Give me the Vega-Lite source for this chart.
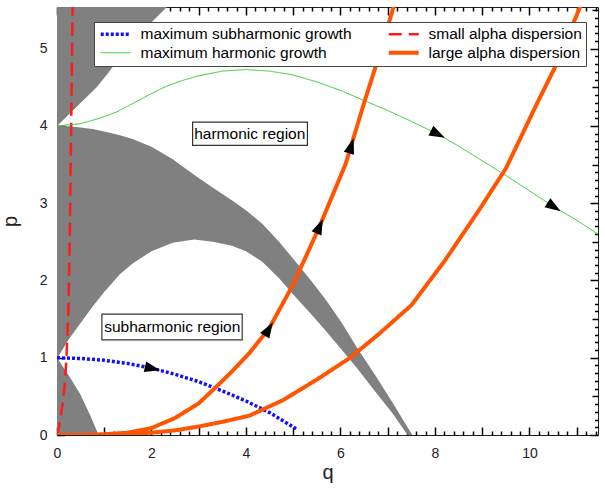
{
  "$schema": "https://vega.github.io/schema/vega-lite/v6.json",
  "width": 541,
  "height": 428,
  "autosize": {"type": "none"},
  "padding": {"left": 57, "top": 7, "right": 7, "bottom": 56},
  "background": "white",
  "config": {
    "view": {"stroke": "#222", "strokeWidth": 1},
    "legend": {
      "orient": "none", "legendX": 37, "legendY": 15, "columns": 2, "direction": "horizontal",
      "fillColor": "white", "strokeColor": "#444", "padding": 4,
      "labelFont": "Liberation Sans", "labelFontSize": 15.5, "labelColor": "black", "labelLimit": 0,
      "symbolType": "M-1,0L5,0", "symbolSize": 100, "labelOffset": 27, "columnPadding": 28, "rowPadding": 1
    }
  },
  "datasets": {
    "grayTop": [
      {"q": 0, "p": 4.0, "p2": 5.6}, {"q": 0.2, "p": 4.12, "p2": 5.6}, {"q": 0.4, "p": 4.24, "p2": 5.6},
      {"q": 0.84, "p": 4.5, "p2": 5.6}, {"q": 1.1, "p": 4.7, "p2": 5.6}, {"q": 1.43, "p": 4.97, "p2": 5.6},
      {"q": 1.9, "p": 5.28, "p2": 5.6}, {"q": 2.36, "p": 5.56, "p2": 5.6}
    ],
    "grayBand": [
      {"q": 0, "p": 1.0, "p2": 4.0}, {"q": 0.05, "p": 1.04, "p2": 4.0}, {"q": 0.25, "p": 1.24, "p2": 3.995},
      {"q": 0.5, "p": 1.45, "p2": 3.98}, {"q": 0.75, "p": 1.66, "p2": 3.96}, {"q": 1.0, "p": 1.85, "p2": 3.93},
      {"q": 1.33, "p": 2.08, "p2": 3.88}, {"q": 1.6, "p": 2.22, "p2": 3.83}, {"q": 2.0, "p": 2.38, "p2": 3.73},
      {"q": 2.45, "p": 2.49, "p2": 3.57}, {"q": 2.9, "p": 2.53, "p2": 3.37}, {"q": 3.3, "p": 2.5, "p2": 3.2},
      {"q": 3.7, "p": 2.45, "p2": 3.04}, {"q": 4.0, "p": 2.38, "p2": 2.91}, {"q": 4.35, "p": 2.24, "p2": 2.73},
      {"q": 4.7, "p": 2.03, "p2": 2.5}, {"q": 5.0, "p": 1.82, "p2": 2.28}, {"q": 5.4, "p": 1.55, "p2": 1.98},
      {"q": 5.7, "p": 1.34, "p2": 1.74}, {"q": 6.03, "p": 1.1, "p2": 1.45}, {"q": 6.33, "p": 0.88, "p2": 1.15},
      {"q": 6.75, "p": 0.55, "p2": 0.76}, {"q": 7.1, "p": 0.28, "p2": 0.42}, {"q": 7.42, "p": 0.0, "p2": 0.1},
      {"q": 7.52, "p": 0.0, "p2": 0.0}
    ],
    "grayLow": [
      {"q": 0, "p": 0, "p2": 1.0}, {"q": 0.25, "p": 0, "p2": 0.77}, {"q": 0.49, "p": 0, "p2": 0.53},
      {"q": 0.7, "p": 0, "p2": 0.26}, {"q": 0.88, "p": 0, "p2": 0.0}
    ],
    "lines": [
      {"series": "maximum subharmonic growth", "curve": "b", "q": 0, "p": 1.0},
      {"series": "maximum subharmonic growth", "curve": "b", "q": 0.5, "p": 0.99},
      {"series": "maximum subharmonic growth", "curve": "b", "q": 1.0, "p": 0.967},
      {"series": "maximum subharmonic growth", "curve": "b", "q": 1.5, "p": 0.925},
      {"series": "maximum subharmonic growth", "curve": "b", "q": 2.0, "p": 0.865},
      {"series": "maximum subharmonic growth", "curve": "b", "q": 2.5, "p": 0.785},
      {"series": "maximum subharmonic growth", "curve": "b", "q": 3.0, "p": 0.69},
      {"series": "maximum subharmonic growth", "curve": "b", "q": 3.5, "p": 0.57},
      {"series": "maximum subharmonic growth", "curve": "b", "q": 4.0, "p": 0.44},
      {"series": "maximum subharmonic growth", "curve": "b", "q": 4.5, "p": 0.29},
      {"series": "maximum subharmonic growth", "curve": "b", "q": 5.06, "p": 0.08},
      {"series": "small alpha dispersion", "curve": "r", "q": 0, "p": 0},
      {"series": "small alpha dispersion", "curve": "r", "q": 0.04, "p": 0.1},
      {"series": "small alpha dispersion", "curve": "r", "q": 0.07, "p": 0.2},
      {"series": "small alpha dispersion", "curve": "r", "q": 0.13, "p": 0.45},
      {"series": "small alpha dispersion", "curve": "r", "q": 0.17, "p": 0.7},
      {"series": "small alpha dispersion", "curve": "r", "q": 0.2, "p": 1.0},
      {"series": "small alpha dispersion", "curve": "r", "q": 0.24, "p": 1.6},
      {"series": "small alpha dispersion", "curve": "r", "q": 0.26, "p": 2.2},
      {"series": "small alpha dispersion", "curve": "r", "q": 0.28, "p": 3.0},
      {"series": "small alpha dispersion", "curve": "r", "q": 0.3, "p": 4.0},
      {"series": "small alpha dispersion", "curve": "r", "q": 0.32, "p": 5.0},
      {"series": "small alpha dispersion", "curve": "r", "q": 0.33, "p": 5.56},
      {"series": "maximum harmonic growth", "curve": "g", "q": 0, "p": 4.0},
      {"series": "maximum harmonic growth", "curve": "g", "q": 0.5, "p": 4.03},
      {"series": "maximum harmonic growth", "curve": "g", "q": 0.9, "p": 4.1},
      {"series": "maximum harmonic growth", "curve": "g", "q": 1.26, "p": 4.18},
      {"series": "maximum harmonic growth", "curve": "g", "q": 1.6, "p": 4.29},
      {"series": "maximum harmonic growth", "curve": "g", "q": 2.0, "p": 4.42},
      {"series": "maximum harmonic growth", "curve": "g", "q": 2.3, "p": 4.51},
      {"series": "maximum harmonic growth", "curve": "g", "q": 2.66, "p": 4.59},
      {"series": "maximum harmonic growth", "curve": "g", "q": 3.0, "p": 4.65},
      {"series": "maximum harmonic growth", "curve": "g", "q": 3.5, "p": 4.71},
      {"series": "maximum harmonic growth", "curve": "g", "q": 4.0, "p": 4.73},
      {"series": "maximum harmonic growth", "curve": "g", "q": 4.5, "p": 4.71},
      {"series": "maximum harmonic growth", "curve": "g", "q": 5.0, "p": 4.66},
      {"series": "maximum harmonic growth", "curve": "g", "q": 5.5, "p": 4.57},
      {"series": "maximum harmonic growth", "curve": "g", "q": 6.0, "p": 4.46},
      {"series": "maximum harmonic growth", "curve": "g", "q": 6.5, "p": 4.33},
      {"series": "maximum harmonic growth", "curve": "g", "q": 7.0, "p": 4.2},
      {"series": "maximum harmonic growth", "curve": "g", "q": 7.5, "p": 4.06},
      {"series": "maximum harmonic growth", "curve": "g", "q": 8.04, "p": 3.9},
      {"series": "maximum harmonic growth", "curve": "g", "q": 8.5, "p": 3.74},
      {"series": "maximum harmonic growth", "curve": "g", "q": 8.92, "p": 3.58},
      {"series": "maximum harmonic growth", "curve": "g", "q": 9.5, "p": 3.36},
      {"series": "maximum harmonic growth", "curve": "g", "q": 10.0, "p": 3.16},
      {"series": "maximum harmonic growth", "curve": "g", "q": 10.5, "p": 2.96},
      {"series": "maximum harmonic growth", "curve": "g", "q": 11.0, "p": 2.78},
      {"series": "maximum harmonic growth", "curve": "g", "q": 11.45, "p": 2.6},
      {"series": "large alpha dispersion", "curve": "o1", "q": 0, "p": 0},
      {"series": "large alpha dispersion", "curve": "o1", "q": 0.5, "p": 0.0},
      {"series": "large alpha dispersion", "curve": "o1", "q": 1.0, "p": 0.01},
      {"series": "large alpha dispersion", "curve": "o1", "q": 1.5, "p": 0.03},
      {"series": "large alpha dispersion", "curve": "o1", "q": 2.0, "p": 0.09},
      {"series": "large alpha dispersion", "curve": "o1", "q": 2.5, "p": 0.22},
      {"series": "large alpha dispersion", "curve": "o1", "q": 3.0, "p": 0.41},
      {"series": "large alpha dispersion", "curve": "o1", "q": 3.33, "p": 0.6},
      {"series": "large alpha dispersion", "curve": "o1", "q": 3.7, "p": 0.82},
      {"series": "large alpha dispersion", "curve": "o1", "q": 4.07, "p": 1.06},
      {"series": "large alpha dispersion", "curve": "o1", "q": 4.49, "p": 1.38},
      {"series": "large alpha dispersion", "curve": "o1", "q": 5.0, "p": 1.95},
      {"series": "large alpha dispersion", "curve": "o1", "q": 5.55, "p": 2.69},
      {"series": "large alpha dispersion", "curve": "o1", "q": 6.11, "p": 3.51},
      {"series": "large alpha dispersion", "curve": "o1", "q": 6.5, "p": 4.3},
      {"series": "large alpha dispersion", "curve": "o1", "q": 6.74, "p": 4.76},
      {"series": "large alpha dispersion", "curve": "o1", "q": 7.07, "p": 5.43},
      {"series": "large alpha dispersion", "curve": "o1", "q": 7.13, "p": 5.56},
      {"series": "large alpha dispersion", "curve": "o2", "q": 0, "p": 0},
      {"series": "large alpha dispersion", "curve": "o2", "q": 1.0, "p": 0.0},
      {"series": "large alpha dispersion", "curve": "o2", "q": 1.5, "p": 0.01},
      {"series": "large alpha dispersion", "curve": "o2", "q": 2.0, "p": 0.03},
      {"series": "large alpha dispersion", "curve": "o2", "q": 2.5, "p": 0.06},
      {"series": "large alpha dispersion", "curve": "o2", "q": 3.0, "p": 0.11},
      {"series": "large alpha dispersion", "curve": "o2", "q": 3.5, "p": 0.17},
      {"series": "large alpha dispersion", "curve": "o2", "q": 4.07, "p": 0.25},
      {"series": "large alpha dispersion", "curve": "o2", "q": 4.78, "p": 0.45},
      {"series": "large alpha dispersion", "curve": "o2", "q": 5.48, "p": 0.71},
      {"series": "large alpha dispersion", "curve": "o2", "q": 6.18, "p": 0.99},
      {"series": "large alpha dispersion", "curve": "o2", "q": 6.8, "p": 1.3},
      {"series": "large alpha dispersion", "curve": "o2", "q": 7.5, "p": 1.68},
      {"series": "large alpha dispersion", "curve": "o2", "q": 8.2, "p": 2.25},
      {"series": "large alpha dispersion", "curve": "o2", "q": 8.92, "p": 2.9},
      {"series": "large alpha dispersion", "curve": "o2", "q": 9.5, "p": 3.45},
      {"series": "large alpha dispersion", "curve": "o2", "q": 10.19, "p": 4.33},
      {"series": "large alpha dispersion", "curve": "o2", "q": 10.54, "p": 4.76},
      {"series": "large alpha dispersion", "curve": "o2", "q": 11.03, "p": 5.48},
      {"series": "large alpha dispersion", "curve": "o2", "q": 11.08, "p": 5.56}
    ],
    "arrows": [
      {"id": "b1", "q": 2.0, "p": 0.865},
      {"id": "g1", "q": 8.04, "p": 3.9},
      {"id": "g2", "q": 10.5, "p": 2.96},
      {"id": "o1", "q": 4.47, "p": 1.36},
      {"id": "o2", "q": 5.55, "p": 2.69},
      {"id": "o3", "q": 6.22, "p": 3.73}
    ],
    "boxes": [
      {"q": 2.87, "q2": 5.3, "p": 3.75, "p2": 4.05},
      {"q": 0.95, "q2": 3.92, "p": 1.23, "p2": 1.565}
    ],
    "labels": [
      {"q": 4.08, "p": 3.9, "label": "harmonic region"},
      {"q": 2.44, "p": 1.4, "label": "subharmonic region"}
    ],
    "anchor": [{"q": 0, "p": 0}]
  },
  "layer": [
    {
      "encoding": {
        "x": {
          "field": "q", "type": "quantitative",
          "scale": {"domain": [0, 11.45], "nice": false, "zero": false},
          "axis": {
            "orient": "bottom", "title": "q",
            "values": [0,1,2,3,4,5,6,7,8,9,10,11],
            "tickColor": "black", "tickWidth": 1.5, "tickSize": 8, "offset": -8,
            "domain": false, "grid": false, "labelFlush": false, "labelOverlap": false,
            "labelExpr": "datum.value % 2 === 0 ? format(datum.value, 'd') : ''",
            "labelFont": "Liberation Sans", "labelFontSize": 14, "labelColor": "#222", "labelPadding": 11,
            "titleFont": "Liberation Sans", "titleFontSize": 20, "titleFontWeight": "normal", "titleColor": "#222", "titlePadding": 2
          }
        },
        "y": {
          "field": "p", "type": "quantitative",
          "scale": {"domain": [0, 5.54], "nice": false, "zero": false},
          "axis": {
            "orient": "left", "title": "p",
            "values": [0,1,2,3,4,5],
            "tickColor": "black", "tickWidth": 1.5, "tickSize": 8, "offset": -8,
            "domain": false, "grid": false, "labelFlush": false, "labelOverlap": false,
            "labelFont": "Liberation Sans", "labelFontSize": 14, "labelColor": "#222", "labelPadding": 10,
            "titleFont": "Liberation Sans", "titleFontSize": 20, "titleFontWeight": "normal", "titleColor": "#222", "titlePadding": 19
          }
        }
      },
      "layer": [
        {"data": {"name": "grayTop"}, "mark": {"type": "area", "orient": "vertical", "color": "#808080", "clip": true}, "encoding": {"y2": {"field": "p2"}}},
        {"data": {"name": "grayBand"}, "mark": {"type": "area", "orient": "vertical", "color": "#808080", "clip": true}, "encoding": {"y2": {"field": "p2"}}},
        {"data": {"name": "grayLow"}, "mark": {"type": "area", "orient": "vertical", "color": "#808080", "clip": true}, "encoding": {"y2": {"field": "p2"}}},
        {
          "data": {"name": "lines"},
          "mark": {"type": "line", "clip": true},
          "encoding": {
            "color": {"field": "series", "type": "nominal", "title": null,
              "scale": {"domain": ["maximum subharmonic growth", "small alpha dispersion", "maximum harmonic growth", "large alpha dispersion"], "range": ["#1010ff", "#ff1a1a", "#2ecc2e", "#ff5500"]}},
            "strokeDash": {"field": "series", "type": "nominal", "title": null,
              "scale": {"domain": ["maximum subharmonic growth", "small alpha dispersion", "maximum harmonic growth", "large alpha dispersion"], "range": [[3, 2], [13, 7], [1, 0], [1, 0]]}},
            "strokeWidth": {"field": "series", "type": "nominal", "title": null,
              "scale": {"type": "ordinal", "domain": ["maximum subharmonic growth", "small alpha dispersion", "maximum harmonic growth", "large alpha dispersion"], "range": [3.5, 2.5, 1, 4]}},
            "detail": {"field": "curve", "type": "nominal"}
          }
        },
        {"data": {"name": "arrows"}, "transform": [{"filter": "datum.id === 'b1'"}], "mark": {"type": "point", "shape": "M0,-1L0.6,0.75L-0.6,0.75Z", "size": 320, "filled": true, "color": "black", "opacity": 1, "angle": 103}},
        {"data": {"name": "arrows"}, "transform": [{"filter": "datum.id === 'g1'"}], "mark": {"type": "point", "shape": "M0,-1L0.6,0.75L-0.6,0.75Z", "size": 320, "filled": true, "color": "black", "opacity": 1, "angle": 117}},
        {"data": {"name": "arrows"}, "transform": [{"filter": "datum.id === 'g2'"}], "mark": {"type": "point", "shape": "M0,-1L0.6,0.75L-0.6,0.75Z", "size": 320, "filled": true, "color": "black", "opacity": 1, "angle": 123}},
        {"data": {"name": "arrows"}, "transform": [{"filter": "datum.id === 'o1'"}], "mark": {"type": "point", "shape": "M0,-1L0.6,0.75L-0.6,0.75Z", "size": 320, "filled": true, "color": "black", "opacity": 1, "angle": 31}},
        {"data": {"name": "arrows"}, "transform": [{"filter": "datum.id === 'o2'"}], "mark": {"type": "point", "shape": "M0,-1L0.6,0.75L-0.6,0.75Z", "size": 320, "filled": true, "color": "black", "opacity": 1, "angle": 24}},
        {"data": {"name": "arrows"}, "transform": [{"filter": "datum.id === 'o3'"}], "mark": {"type": "point", "shape": "M0,-1L0.6,0.75L-0.6,0.75Z", "size": 320, "filled": true, "color": "black", "opacity": 1, "angle": 17}},
        {"data": {"name": "boxes"}, "mark": {"type": "rect", "fill": "white", "stroke": "#333", "strokeWidth": 1.2}, "encoding": {"x2": {"field": "q2"}, "y2": {"field": "p2"}}},
        {"data": {"name": "labels"}, "mark": {"type": "text", "font": "Liberation Sans", "fontSize": 15.5, "color": "black"}, "encoding": {"text": {"field": "label", "type": "nominal"}}}
      ]
    },
    {
      "data": {"name": "anchor"},
      "mark": {"type": "point", "opacity": 0},
      "encoding": {
        "x": {"field": "q", "type": "quantitative", "scale": {"domain": [0, 11.45], "nice": false, "zero": false},
          "axis": {"orient": "bottom", "title": null, "labels": false, "tickColor": "black", "tickWidth": 1.5, "tickSize": 4, "offset": -4, "domain": false, "grid": false,
            "values": [0.2,0.4,0.6,0.8,1.2,1.4,1.6,1.8,2.2,2.4,2.6,2.8,3.2,3.4,3.6,3.8,4.2,4.4,4.6,4.8,5.2,5.4,5.6,5.8,6.2,6.4,6.6,6.8,7.2,7.4,7.6,7.8,8.2,8.4,8.6,8.8,9.2,9.4,9.6,9.8,10.2,10.4,10.6,10.8,11.2,11.4]}},
        "y": {"field": "p", "type": "quantitative", "scale": {"domain": [0, 5.54], "nice": false, "zero": false},
          "axis": {"orient": "left", "title": null, "labels": false, "tickColor": "black", "tickWidth": 1.5, "tickSize": 3.5, "offset": -3.5, "domain": false, "grid": false,
            "values": [0.1,0.2,0.3,0.4,0.6,0.7,0.8,0.9,1.1,1.2,1.3,1.4,1.6,1.7,1.8,1.9,2.1,2.2,2.3,2.4,2.6,2.7,2.8,2.9,3.1,3.2,3.3,3.4,3.6,3.7,3.8,3.9,4.1,4.2,4.3,4.4,4.6,4.7,4.8,4.9,5.1,5.2,5.3,5.4]}}
      }
    },
    {
      "data": {"name": "anchor"},
      "mark": {"type": "point", "opacity": 0},
      "encoding": {
        "x": {"field": "q", "type": "quantitative", "scale": {"domain": [0, 11.45], "nice": false, "zero": false},
          "axis": {"orient": "top", "title": null, "labels": false, "tickColor": "black", "tickWidth": 1.5, "tickSize": 8, "offset": -8, "domain": false, "grid": false, "values": [0,1,2,3,4,5,6,7,8,9,10,11]}},
        "y": {"field": "p", "type": "quantitative", "scale": {"domain": [0, 5.54], "nice": false, "zero": false},
          "axis": {"orient": "right", "title": null, "labels": false, "tickColor": "black", "tickWidth": 1.5, "tickSize": 8, "offset": -8, "domain": false, "grid": false, "values": [0,1,2,3,4,5]}}
      }
    },
    {
      "data": {"name": "anchor"},
      "mark": {"type": "point", "opacity": 0},
      "encoding": {
        "x": {"field": "q", "type": "quantitative", "scale": {"domain": [0, 11.45], "nice": false, "zero": false},
          "axis": {"orient": "top", "title": null, "labels": false, "tickColor": "black", "tickWidth": 1.5, "tickSize": 4, "offset": -4, "domain": false, "grid": false,
            "values": [0.2,0.4,0.6,0.8,1.2,1.4,1.6,1.8,2.2,2.4,2.6,2.8,3.2,3.4,3.6,3.8,4.2,4.4,4.6,4.8,5.2,5.4,5.6,5.8,6.2,6.4,6.6,6.8,7.2,7.4,7.6,7.8,8.2,8.4,8.6,8.8,9.2,9.4,9.6,9.8,10.2,10.4,10.6,10.8,11.2,11.4]}},
        "y": {"field": "p", "type": "quantitative", "scale": {"domain": [0, 5.54], "nice": false, "zero": false},
          "axis": {"orient": "right", "title": null, "labels": false, "tickColor": "black", "tickWidth": 1.5, "tickSize": 3.5, "offset": -3.5, "domain": false, "grid": false,
            "values": [0.1,0.2,0.3,0.4,0.6,0.7,0.8,0.9,1.1,1.2,1.3,1.4,1.6,1.7,1.8,1.9,2.1,2.2,2.3,2.4,2.6,2.7,2.8,2.9,3.1,3.2,3.3,3.4,3.6,3.7,3.8,3.9,4.1,4.2,4.3,4.4,4.6,4.7,4.8,4.9,5.1,5.2,5.3,5.4]}}
      }
    },
    {
      "data": {"name": "anchor"},
      "mark": {"type": "point", "opacity": 0},
      "encoding": {
        "x": {"field": "q", "type": "quantitative", "scale": {"domain": [0, 11.45], "nice": false, "zero": false}, "axis": null},
        "y": {"field": "p", "type": "quantitative", "scale": {"domain": [0, 5.54], "nice": false, "zero": false},
          "axis": {"orient": "left", "title": null, "labels": false, "tickColor": "black", "tickWidth": 1.5, "tickSize": 6, "offset": -6, "domain": false, "grid": false, "values": [0.5,1.5,2.5,3.5,4.5,5.5]}}
      }
    },
    {
      "data": {"name": "anchor"},
      "mark": {"type": "point", "opacity": 0},
      "encoding": {
        "x": {"field": "q", "type": "quantitative", "scale": {"domain": [0, 11.45], "nice": false, "zero": false}, "axis": null},
        "y": {"field": "p", "type": "quantitative", "scale": {"domain": [0, 5.54], "nice": false, "zero": false},
          "axis": {"orient": "right", "title": null, "labels": false, "tickColor": "black", "tickWidth": 1.5, "tickSize": 6, "offset": -6, "domain": false, "grid": false, "values": [0.5,1.5,2.5,3.5,4.5,5.5]}}
      }
    }
  ],
  "resolve": {"axis": {"x": "independent", "y": "independent"}}
}
